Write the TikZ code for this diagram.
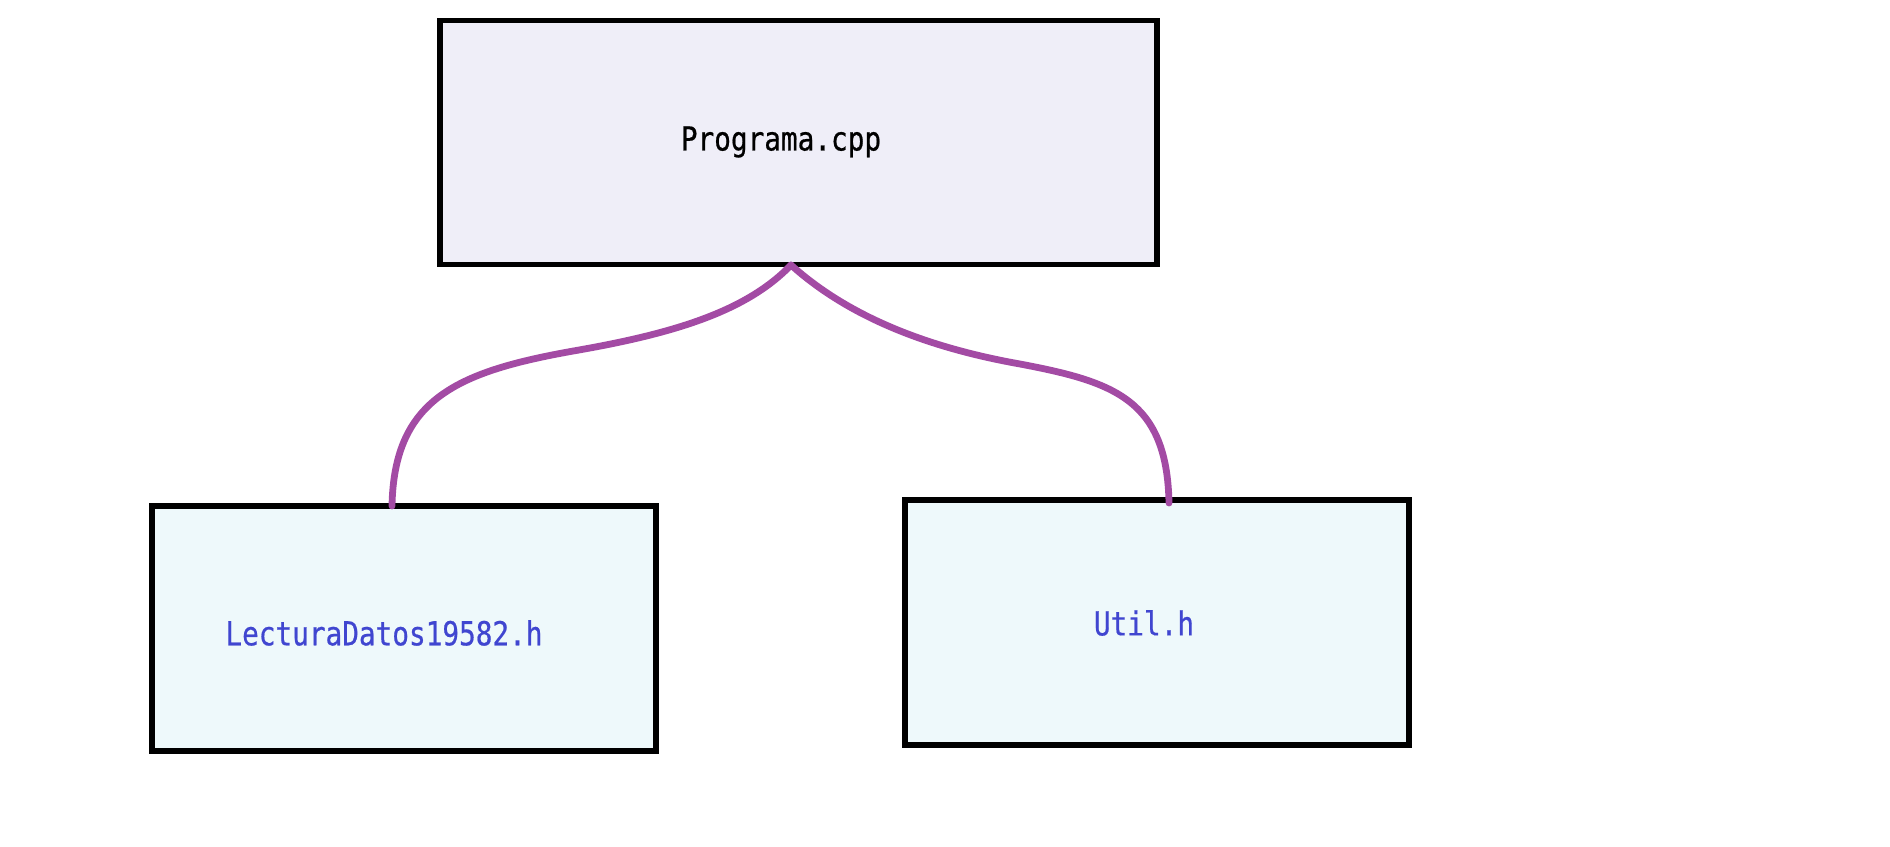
\documentclass[tikz,border=0pt]{standalone}
\usepackage{fontspec}
\newfontfamily\codefont[FakeStretch=0.84,FakeBold=0.6]{DejaVu Sans Mono}
\definecolor{topfill}{HTML}{EFEEF8}
\definecolor{botfill}{HTML}{EEF9FB}
\definecolor{edgecol}{HTML}{A34BA4}
\definecolor{txtblue}{HTML}{4046D0}
\begin{document}
\begin{tikzpicture}[x=0.5pt,y=-0.5pt,
  filebox/.style={draw=black,line width=2.6pt,rectangle,inner sep=0pt},
  toptxt/.style={font=\codefont\fontsize{16.5}{19}\selectfont,text=black,inner sep=0pt},
  bottxt/.style={font=\codefont\fontsize{16.5}{19}\selectfont,text=txtblue,inner sep=0pt},
  link/.style={draw=edgecol,line width=3.4pt,line cap=round}]
\useasboundingbox (0,0) rectangle (1890,846);
\node[filebox,fill=topfill,minimum width=358.5pt,minimum height=122pt] (top) at (798.5,142.75) {};
\node[filebox,fill=botfill,minimum width=252pt,minimum height=122.5pt] (lect) at (404,628.5) {};
\node[filebox,fill=botfill,minimum width=252pt,minimum height=122.5pt] (util) at (1157,622.5) {};
\node[toptxt] (toplbl) at (781,142) {Programa.cpp};
\node[bottxt] (lectlbl) at (384,633) {LecturaDatos19582.h};
\node[bottxt] (utillbl) at (1144,623) {Util.h};
\coordinate (s) at (791,265);
\coordinate (le) at (392,506);
\coordinate (ue) at (1169,503);
\draw[link] (s) .. controls (747,311) and (675,333) .. (579,350) .. controls (458,371) and (394,398) .. (le);
\draw[link] (s) .. controls (850,318) and (930,348) .. (1020,364) .. controls (1115,382) and (1167,400) .. (ue);
\end{tikzpicture}
\end{document}
